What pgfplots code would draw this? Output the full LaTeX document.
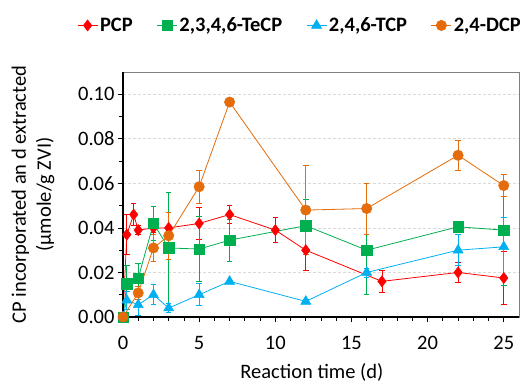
\documentclass[border=0pt]{standalone}
\usepackage{pgfplots}
\pgfplotsset{compat=1.18}
\usepackage{pgfplotstable}
\usepackage{fontspec}
\setmainfont{Carlito}
\definecolor{cpcp}{RGB}{255,0,0}
\definecolor{cte}{RGB}{0,176,80}
\definecolor{ctcp}{RGB}{0,176,240}
\definecolor{cdcp}{RGB}{228,108,10}
\pgfplotstableread{
x y e
0 0 0
0.25 0.037 0.009
0.7 0.046 0.005
1 0.039 0.002
2 0.040 0.002
3 0.040 0.007
5 0.042 0.007
7 0.046 0.004
10 0.039 0.0057
12 0.030 0.009
17 0.016 0.005
22 0.020 0.0045
25 0.0175 0.012
}\pcp
\pgfplotstableread{
x y e
0 0 0
0.25 0.015 0.008
1 0.0175 0.0065
2 0.042 0.0075
3 0.031 0.025
5 0.0305 0.0145
7 0.0345 0.0095
12 0.041 0.012
16 0.030 0.020
22 0.0405 0.002
25 0.039 0.025
}\tecp
\pgfplotstableread{
x y e
0 0 0
0.25 0.0075 0.004
1 0.0055 0.005
2 0.010 0.0045
3 0.004 0.002
5 0.010 0.005
7 0.016 0.001
12 0.007 0.001
16 0.020 0.002
22 0.030 0.007
25 0.0315 0.013
}\tcp
\pgfplotstableread{
x y e
0 0 0
1 0.0108 0.003
2 0.031 0.006
3 0.0365 0.0105
5 0.0585 0.0075
7 0.0965 0.0015
12 0.048 0.020
16 0.0487 0.0115
22 0.0726 0.0068
25 0.059 0.005
}\dcp
\begin{document}
\begin{tikzpicture}
\begin{axis}[
  at={(123pt,73pt)}, anchor=south west,
  width=396pt, height=245pt, scale only axis,
  xmin=0, xmax=26, ymin=0, ymax=0.11,
  clip=false,
  axis line style={gray, line width=0.7pt},
  xtick={0,5,...,25}, minor x tick num=4,
  ytick={0,0.02,0.04,0.06,0.08,0.10}, minor y tick num=1,
  xtick pos=bottom, ytick pos=left,
  tick align=outside,
  major tick length=5pt, minor tick length=4pt,
  tick style={black, line width=0.8pt},
  ymajorgrids, major grid style={densely dashed, gray!30, line width=0.8pt},
  scaled y ticks=false,
  yticklabel style={/pgf/number format/.cd, fixed, fixed zerofill, precision=2, assume math mode=true},
  xticklabel style={/pgf/number format/assume math mode=true, yshift=-11pt},
  ticklabel style={font=\fontsize{20.5}{24}\selectfont},
  xlabel={Reaction time (d)},
  xlabel style={at={(axis description cs:0.477,0)}, yshift=-55pt, anchor=center, font=\fontsize{20.5}{24}\selectfont},
  ylabel={CP incorporated an d extracted\\(µmole/g ZVI)},
  ylabel style={at={(axis description cs:0,0.5)}, yshift=90pt, anchor=center, align=center, font=\fontsize{20.5}{25}\selectfont},
  legend columns=4,
  legend style={draw=none, fill=none, at={(axis description cs:0.447,1.19)}, anchor=center,
    font=\bfseries\fontsize{20.5}{24}\selectfont,
    /tikz/every even column/.append style={column sep=22pt}},
  legend image code/.code={\draw[mark repeat=2,mark phase=2] plot coordinates {(0pt,0pt)(10pt,0pt)(20pt,0pt)};},
  every axis plot/.append style={line width=0.8pt},
]
\addplot+[cpcp, mark=diamond*, mark size=5.6pt, mark options={fill=cpcp, draw=cpcp, line width=0.5pt},
  error bars/.cd, y dir=both, y explicit, error mark options={rotate=90, mark size=2.8pt, cpcp, line width=0.8pt}, error bar style={cpcp, line width=0.8pt}]
  table[x=x, y=y, y error=e] {\pcp};
\addlegendentry{PCP}
\addplot+[cte, mark=square*, mark size=5.2pt, mark options={fill=cte, draw=cte, line width=0.5pt},
  error bars/.cd, y dir=both, y explicit, error mark options={rotate=90, mark size=2.8pt, cte, line width=0.8pt}, error bar style={cte, line width=0.8pt}]
  table[x=x, y=y, y error=e] {\tecp};
\addlegendentry{2,3,4,6-TeCP}
\addplot+[ctcp, mark=triangle*, mark size=5.8pt, mark options={fill=ctcp, draw=ctcp, line width=0.5pt},
  error bars/.cd, y dir=both, y explicit, error mark options={rotate=90, mark size=2.8pt, ctcp, line width=0.8pt}, error bar style={ctcp, line width=0.8pt}]
  table[x=x, y=y, y error=e] {\tcp};
\addlegendentry{2,4,6-TCP}
\addplot+[cdcp, mark=*, mark size=5.2pt, mark options={fill=cdcp, draw=cdcp, line width=0.5pt},
  error bars/.cd, y dir=both, y explicit, error mark options={rotate=90, mark size=2.8pt, cdcp, line width=0.8pt}, error bar style={cdcp, line width=0.8pt}]
  table[x=x, y=y, y error=e] {\dcp};
\addlegendentry{2,4-DCP}
\draw[black, line width=1.3pt] (rel axis cs:0,1) -- (rel axis cs:0,0) -- (rel axis cs:1,0);
\end{axis}
\pgfresetboundingbox
\useasboundingbox (0,0) rectangle (520pt,390pt);
\end{tikzpicture}
\end{document}
